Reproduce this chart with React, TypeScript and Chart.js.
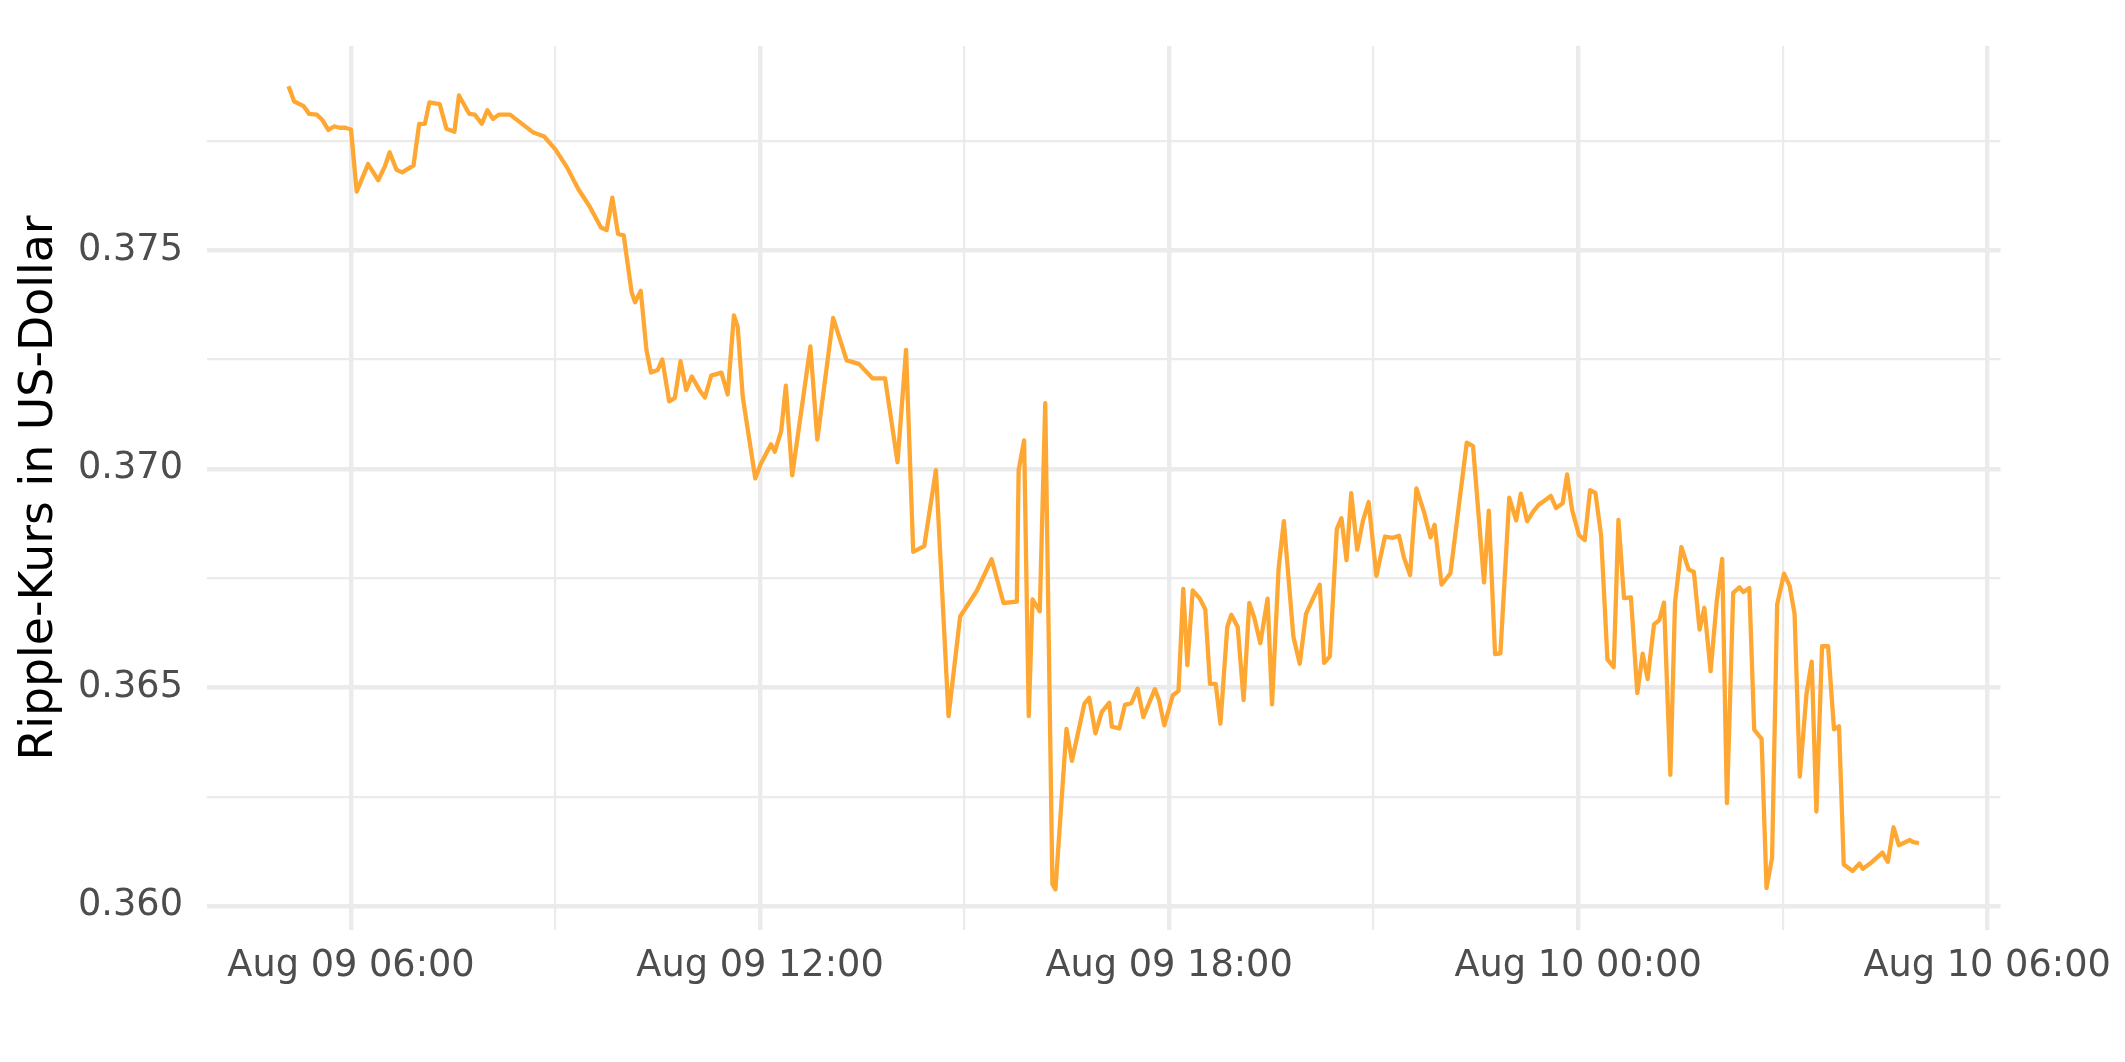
import React, { useEffect, useRef } from "react";
import { Chart, registerables } from "chart.js";

Chart.register(...registerables);

// time in minutes after Aug 09 00:00
const minutes = [
  305, 310, 318, 321, 323, 330, 335, 340, 345, 350, 355, 360, 365, 375, 384, 390, 394, 400, 405, 415,
  420, 425, 429, 438, 444, 451, 455, 464, 469, 475,
  480, 485, 490, 500, 510, 520, 530, 540, 550, 560, 570,
  580, 585, 590, 595, 600, 607, 610, 615, 620, 624, 630, 634, 640, 645, 650, 655, 660,
  666.5, 671.5, 677, 686, 691.5, 697, 700.3, 704.8, 715.8, 720.6, 729.7, 733, 738.6, 742.7, 748.3,
  764.3, 770.4, 784.3, 796.2, 807, 818.9, 830, 841,
  848.5, 854.8, 864.5, 874.8, 885.9, 896.1, 910.8, 923.8, 934.3, 946, 947.6, 952.4, 956.5, 959.8,
  966.2, 971, 977.3, 980, 989.7, 994.5, 1005.5, 1009.7, 1015.2, 1020.8,
  1027.4, 1029.6, 1036.2, 1041.2, 1046.8, 1052.3, 1057.3, 1067.5, 1071.1, 1075.8, 1083.3, 1088.3,
  1092.5, 1096.1, 1100.8, 1107.1, 1111.9, 1116, 1121, 1125.2, 1131.2, 1134.8, 1140.4, 1145.6,
  1150.6, 1154.8, 1160.3, 1166.7, 1170.6, 1176.4, 1181, 1189.4, 1195, 1200.5,
  1206.3, 1212.6, 1216.5, 1221.5, 1227.6, 1231.7, 1236.2, 1240.3, 1245.6, 1250.6, 1255.6, 1262.5,
  1270, 1276.9, 1282.4, 1286.6, 1292.1, 1297.7, 1304.6, 1310.1, 1313.7, 1319.8, 1327.6, 1342,
  1347.5, 1357.2, 1361.4, 1366.9, 1371.6, 1379.4, 1385.5,
  1389.6, 1395.1, 1400.7, 1405.4, 1410.4, 1415.9, 1420.6, 1426.4, 1430.3, 1434.7, 1440.8, 1445.8,
  1450.5, 1455.2, 1460.2, 1465.8, 1471.3, 1475.5, 1480.4, 1486.5, 1492.1, 1496.8, 1501.2, 1506.8,
  1511.5, 1515.6, 1521.2, 1525.3, 1530.9, 1537.2, 1541.9, 1546.9, 1551.1, 1556.6, 1562.1, 1566.8,
  1571, 1576.5, 1582, 1585.5, 1590.7, 1595, 1601.5, 1605.8, 1610.7, 1615.2, 1621.2, 1626.2,
  1630.5, 1635.1, 1641, 1645.6, 1649.7, 1654.7, 1660, 1665.2, 1669.6, 1673.8, 1681.6, 1687.7,
  1690.5, 1697, 1707.8, 1712.6, 1717.6, 1722.3, 1732, 1735, 1740,
];

const price = [
  0.37875, 0.3784, 0.3783, 0.3782, 0.37812, 0.3781, 0.37797, 0.37775, 0.37783, 0.3778, 0.3778, 0.37776,
  0.37634, 0.37697, 0.3766, 0.37693, 0.37724, 0.37684, 0.37678, 0.37694,
  0.37789, 0.37789, 0.37838, 0.37834, 0.37778, 0.37771, 0.37854, 0.37812, 0.3781, 0.37789,
  0.3782, 0.378, 0.3781, 0.3781, 0.3779, 0.3777, 0.3776, 0.3773, 0.3769, 0.3764, 0.376,
  0.37552, 0.37546, 0.3762, 0.37537, 0.37534, 0.37403, 0.37381, 0.37407, 0.37272, 0.3722, 0.37226,
  0.3725, 0.37154, 0.37162, 0.37246, 0.3718, 0.37211,
  0.37181, 0.37163, 0.37213, 0.3722, 0.3717, 0.37351, 0.37325, 0.37164, 0.36978, 0.37011, 0.37056,
  0.37039, 0.37086, 0.3719, 0.36985,
  0.3728, 0.37067, 0.37345, 0.37248, 0.3724, 0.37207, 0.37207, 0.37015,
  0.37272, 0.3681, 0.36823, 0.36997, 0.36434, 0.36662, 0.36721, 0.36793, 0.36693, 0.36696, 0.36997,
  0.37065, 0.36434, 0.36701,
  0.36674, 0.3715, 0.3605, 0.36038, 0.36405, 0.36332, 0.36463, 0.36476, 0.36395, 0.36444,
  0.36465, 0.3641, 0.36406, 0.3646, 0.36464, 0.36497, 0.36432, 0.36496, 0.36471, 0.36413, 0.36482,
  0.36492,
  0.36725, 0.36551, 0.36722, 0.36703, 0.36678, 0.36508, 0.36508, 0.36417, 0.36638, 0.36666, 0.36638,
  0.36471,
  0.36693, 0.36661, 0.36601, 0.36703, 0.36461, 0.36772, 0.3688, 0.36616, 0.36554, 0.36668,
  0.36701, 0.36735, 0.36556, 0.36571, 0.36862, 0.36887, 0.36791, 0.36944, 0.36815, 0.36881, 0.36924,
  0.36755,
  0.36845, 0.36842, 0.36847, 0.36798, 0.36757, 0.36955, 0.36899, 0.36843, 0.36872, 0.36735, 0.36761,
  0.3706,
  0.37052, 0.3674, 0.36904, 0.36576, 0.36578, 0.36934, 0.36882,
  0.36943, 0.3688, 0.36903, 0.36918, 0.36927, 0.36938, 0.3691, 0.36921, 0.36987, 0.36906, 0.36848,
  0.36837,
  0.36951, 0.36945, 0.36848, 0.36564, 0.36546, 0.36883, 0.36704, 0.36706, 0.36487, 0.36577, 0.36519,
  0.36644,
  0.36654, 0.36694, 0.363, 0.36694, 0.36821, 0.3677, 0.36764, 0.36632, 0.36682, 0.36537, 0.36699,
  0.36794,
  0.36235, 0.36716, 0.36729, 0.36718, 0.36727, 0.36403, 0.36382, 0.36041, 0.3611, 0.3669, 0.3676,
  0.36732,
  0.36668, 0.36296, 0.36485, 0.36559, 0.36216, 0.36594, 0.36594, 0.36404, 0.36411, 0.36095, 0.3608,
  0.36097,
  0.36085, 0.36097, 0.36122, 0.36101, 0.3618, 0.36139, 0.36151, 0.36146, 0.36144,
];

const yMajorTicks = [0.36, 0.365, 0.37, 0.375];
const yMinorTicks = [0.3625, 0.3675, 0.3725, 0.3775];
const xMajorTicks = [360, 720, 1080, 1440, 1800];
const xMajorLabels = ["Aug 09 06:00", "Aug 09 12:00", "Aug 09 18:00", "Aug 10 00:00", "Aug 10 06:00"];
const xMinorTicks = [540, 900, 1260, 1620];

const yTitle = "Ripple-Kurs in US-Dollar";

const LINE_COLOR = "#FFA733";
const GRID_COLOR = "#EBEBEB";
const TEXT_COLOR = "#4D4D4D";
const FONT = "'DejaVu Sans', 'Noto Sans', sans-serif";

const isClose = (a: number, b: number) => Math.abs(a - b) < 1e-7;

export default function App() {
  const ref = useRef<HTMLCanvasElement>(null);

  useEffect(() => {
    document.body.style.margin = "0";
    const canvas = ref.current;
    if (!canvas) return;
    const chart = new Chart(canvas, {
      type: "line",
      data: {
        datasets: [
          {
            data: minutes.map((m, i) => ({ x: m, y: price[i] })),
            borderColor: LINE_COLOR,
            borderWidth: 4.3,
            pointRadius: 0,
            pointHoverRadius: 0,
            tension: 0,
            fill: false,
            borderJoinStyle: "round",
            borderCapStyle: "butt",
          },
        ],
      },
      options: {
        responsive: false,
        animation: false,
        devicePixelRatio: 1,
        events: [],
        layout: { autoPadding: false, padding: { left: 0, right: 22.6, top: 24, bottom: 0 } },
        plugins: { legend: { display: false }, tooltip: { enabled: false }, title: { display: false } },
        scales: {
          x: {
            type: "linear",
            min: 233.25,
            max: 1811.75,
            afterBuildTicks: (axis: any) => {
              axis.ticks = [...xMajorTicks, ...xMinorTicks].sort((a, b) => a - b).map((v) => ({ value: v }));
            },
            afterFit: (axis: any) => {
              axis.height = 132;
            },
            ticks: {
              autoSkip: false,
              maxRotation: 0,
              minRotation: 0,
              padding: 14,
              color: TEXT_COLOR,
              font: { family: FONT, size: 36.7 },
              callback: (v: any) => {
                const idx = xMajorTicks.findIndex((t) => t === Number(v));
                return idx >= 0 ? xMajorLabels[idx] : "";
              },
            },
            grid: {
              color: GRID_COLOR,
              drawTicks: false,
              lineWidth: (ctx: any) =>
                ctx.tick && xMajorTicks.includes(ctx.tick.value) ? 4.4 : 2.2,
            },
            border: { display: false },
          },
          y: {
            type: "linear",
            min: 0.35945,
            max: 0.37967,
            afterBuildTicks: (axis: any) => {
              axis.ticks = [...yMajorTicks, ...yMinorTicks].sort((a, b) => a - b).map((v) => ({ value: v }));
            },
            afterFit: (axis: any) => {
              axis.width = 207;
            },
            ticks: {
              padding: 24,
              color: TEXT_COLOR,
              font: { family: FONT, size: 36.7 },
              callback: (v: any) => {
                const n = Number(v);
                return yMajorTicks.some((t) => isClose(t, n)) ? n.toFixed(3) : "";
              },
            },
            grid: {
              color: GRID_COLOR,
              drawTicks: false,
              lineWidth: (ctx: any) =>
                ctx.tick && yMajorTicks.some((t) => isClose(t, ctx.tick.value)) ? 4.4 : 2.2,
            },
            border: { display: false },
            title: {
              display: true,
              text: yTitle,
              color: "#000000",
              font: { family: FONT, size: 45.8 },
              padding: { top: 12.5, bottom: 0 },
            },
          },
        },
      },
    });
    return () => chart.destroy();
  }, []);

  return (
    <div style={{ width: 2125, height: 1062, background: "#ffffff" }}>
      <canvas ref={ref} width={2125} height={1062} style={{ display: "block", width: 2125, height: 1062 }} />
    </div>
  );
}
